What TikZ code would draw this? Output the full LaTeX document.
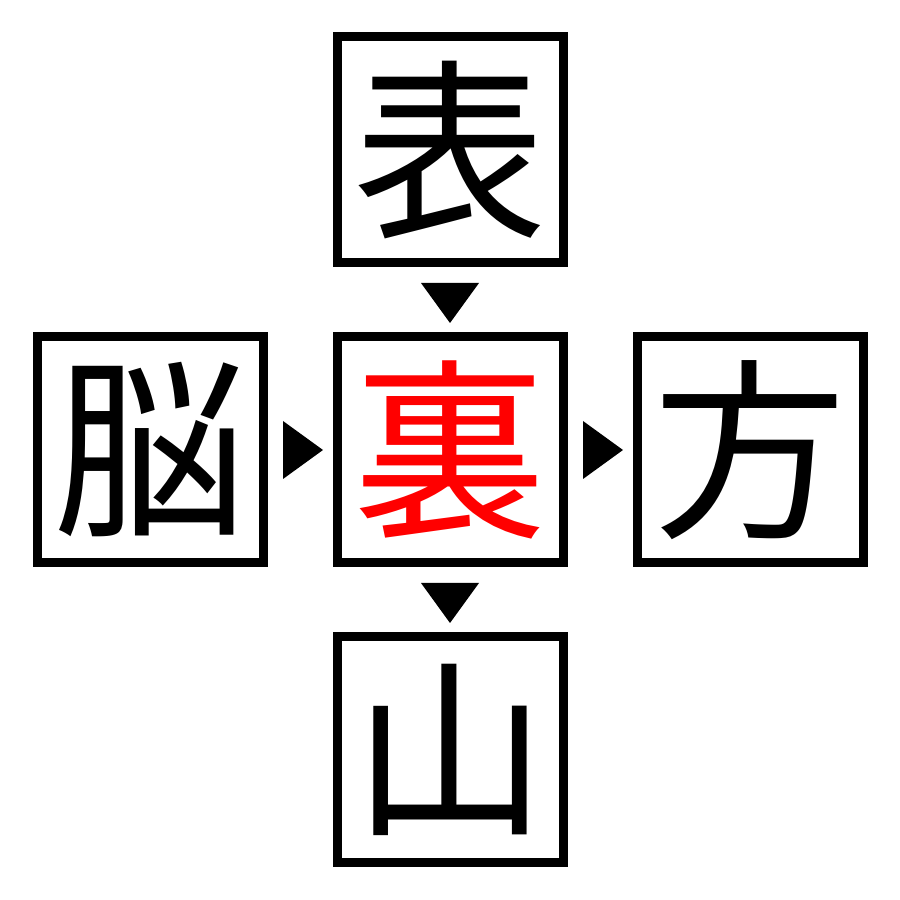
\documentclass[tikz,border=0pt]{standalone}
\usepackage{fontspec}
\newfontfamily\jpfont{Noto Sans CJK JP}
\definecolor{kanjired}{RGB}{255, 0, 0}
\usetikzlibrary{calc}

\begin{document}
\begin{tikzpicture}[
    kbox/.style={draw=black, line width=0.09cm, minimum size=2.26cm, inner sep=0pt, font=\jpfont\fontsize{55}{55}\selectfont},
    tri/.style={fill=black}
  ]
  \useasboundingbox (0,0) rectangle (9,9);

  % kanji boxes
  \node[kbox] (omote) at (4.5, 7.5) {表};
  \node[kbox] (nou) at (1.5, 4.5) {脳};
  \node[kbox, text=kanjired] (ura) at (4.5, 4.5) {裏};
  \node[kbox] (hou) at (7.5, 4.5) {方};
  \node[kbox] (yama) at (4.5, 1.5) {山};

  % arrow triangles
  \coordinate (a1) at ($(omote.south)!0.5!(ura.north)+(0,-0.03)$);
  \coordinate (a2) at ($(nou.east)!0.5!(ura.west)+(0.03,0)$);
  \coordinate (a3) at ($(ura.east)!0.5!(hou.west)+(0.03,0)$);
  \coordinate (a4) at ($(ura.south)!0.5!(yama.north)+(0,-0.03)$);
  \fill[tri] ($(a1)+(-0.29,0.2)$) -- ($(a1)+(0.29,0.2)$) -- ($(a1)+(0,-0.2)$) -- cycle;
  \fill[tri] ($(a4)+(-0.29,0.2)$) -- ($(a4)+(0.29,0.2)$) -- ($(a4)+(0,-0.2)$) -- cycle;
  \fill[tri] ($(a2)+(-0.2,0.29)$) -- ($(a2)+(-0.2,-0.29)$) -- ($(a2)+(0.2,0)$) -- cycle;
  \fill[tri] ($(a3)+(-0.2,0.29)$) -- ($(a3)+(-0.2,-0.29)$) -- ($(a3)+(0.2,0)$) -- cycle;
\end{tikzpicture}
\end{document}
